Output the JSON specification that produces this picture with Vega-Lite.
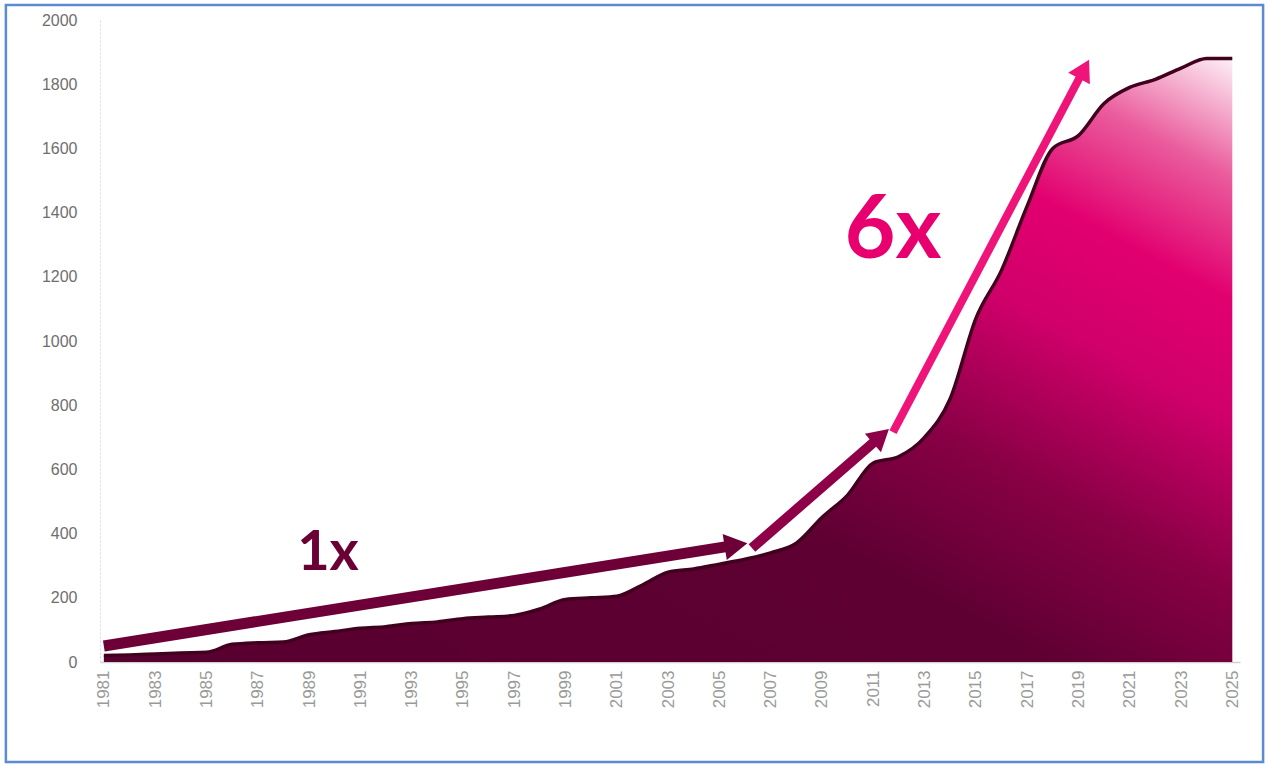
{
  "$schema": "https://vega.github.io/schema/vega-lite/v6.json",
  "width": 1140,
  "height": 642,
  "autosize": {"type": "none"},
  "padding": {"left": 100, "top": 20, "right": 28, "bottom": 102},
  "background": "white",
  "config": {"view": {"stroke": null}, "font": "Liberation Sans"},
  "datasets": {
    "series": [
      {"year": 1981, "value": 20}, {"year": 1982, "value": 22}, {"year": 1983, "value": 25},
      {"year": 1984, "value": 28}, {"year": 1985, "value": 30}, {"year": 1986, "value": 55},
      {"year": 1987, "value": 60}, {"year": 1988, "value": 62}, {"year": 1989, "value": 85},
      {"year": 1990, "value": 95}, {"year": 1991, "value": 105}, {"year": 1992, "value": 110},
      {"year": 1993, "value": 120}, {"year": 1994, "value": 125}, {"year": 1995, "value": 135},
      {"year": 1996, "value": 140}, {"year": 1997, "value": 145}, {"year": 1998, "value": 165},
      {"year": 1999, "value": 195}, {"year": 2000, "value": 200}, {"year": 2001, "value": 205},
      {"year": 2002, "value": 240}, {"year": 2003, "value": 280}, {"year": 2004, "value": 290},
      {"year": 2005, "value": 305}, {"year": 2006, "value": 320}, {"year": 2007, "value": 340},
      {"year": 2008, "value": 370}, {"year": 2009, "value": 450}, {"year": 2010, "value": 520},
      {"year": 2011, "value": 620}, {"year": 2012, "value": 640}, {"year": 2013, "value": 700},
      {"year": 2014, "value": 820}, {"year": 2015, "value": 1070}, {"year": 2016, "value": 1220},
      {"year": 2017, "value": 1420}, {"year": 2018, "value": 1600}, {"year": 2019, "value": 1640},
      {"year": 2020, "value": 1740}, {"year": 2021, "value": 1790}, {"year": 2022, "value": 1815},
      {"year": 2023, "value": 1850}, {"year": 2024, "value": 1880}, {"year": 2025, "value": 1880}
    ],
    "arrows": [
      {"arrow": "slow", "x0": 1981, "y0": 50, "x1": 2005.65, "y1": 364},
      {"arrow": "mid", "x0": 2006.27, "y0": 355, "x1": 2011.3, "y1": 704},
      {"arrow": "fast", "x0": 2011.77, "y0": 716, "x1": 2019.22, "y1": 1847}
    ],
    "labels": [
      {"label": "1x", "year": 1989.74, "value": 340, "kind": "slow"},
      {"label": "6x", "year": 2011.77, "value": 1340, "kind": "fast"}
    ],
    "frame": [
      {"left": 1977.18, "right": 2026.2, "top": 2046.7, "bottom": -311.5}
    ]
  },
  "layer": [
    {
      "data": {"name": "series"},
      "mark": {
        "type": "area",
        "interpolate": "monotone",
        "color": {
          "gradient": "linear",
          "x1": 0, "y1": 1, "x2": 1, "y2": 0,
          "stops": [
            {"offset": 0, "color": "#580030"},
            {"offset": 0.42, "color": "#5e0032"},
            {"offset": 0.56, "color": "#880045"},
            {"offset": 0.7, "color": "#d0006a"},
            {"offset": 0.8, "color": "#e2006f"},
            {"offset": 0.9, "color": "#ea5b9c"},
            {"offset": 1, "color": "#fdf0f6"}
          ]
        }
      },
      "encoding": {
        "x": {
          "field": "year", "type": "quantitative",
          "scale": {"domain": [1980.85, 2025.3], "nice": false, "zero": false},
          "axis": {
            "title": null, "grid": false, "ticks": false,
            "values": [1981,1983,1985,1987,1989,1991,1993,1995,1997,1999,2001,2003,2005,2007,2009,2011,2013,2015,2017,2019,2021,2023,2025],
            "format": "d", "labelAngle": 270, "labelFontSize": 17, "labelColor": "#9a9a9a",
            "labelPadding": 8, "domainColor": "#d0d0d0", "domainWidth": 1.5, "labelFlush": false, "labelOverlap": false
          }
        },
        "y": {
          "field": "value", "type": "quantitative",
          "scale": {"domain": [0, 2000], "nice": false},
          "axis": {
            "title": null, "grid": false, "ticks": false, "format": "d",
            "values": [0,200,400,600,800,1000,1200,1400,1600,1800,2000],
            "labelFontSize": 16, "labelColor": "#6e6e6e", "labelPadding": 23,
            "domainColor": "#d8d8d8", "domainDash": [2, 2], "labelFlush": false
          }
        }
      }
    },
    {
      "data": {"name": "series"},
      "mark": {"type": "line", "interpolate": "monotone", "color": "#42001f", "strokeWidth": 3.5},
      "encoding": {
        "x": {"field": "year", "type": "quantitative"},
        "y": {"field": "value", "type": "quantitative"}
      }
    },
    {
      "data": {"name": "arrows"},
      "transform": [{"filter": "datum.arrow === 'slow'"}],
      "mark": {"type": "rule", "color": "#6e0038", "strokeWidth": 11},
      "encoding": {
        "x": {"field": "x0", "type": "quantitative"}, "y": {"field": "y0", "type": "quantitative"},
        "x2": {"field": "x1"}, "y2": {"field": "y1"}
      }
    },
    {
      "data": {"name": "arrows"},
      "transform": [{"filter": "datum.arrow === 'mid'"}],
      "mark": {"type": "rule", "color": "#8e0048", "strokeWidth": 10},
      "encoding": {
        "x": {"field": "x0", "type": "quantitative"}, "y": {"field": "y0", "type": "quantitative"},
        "x2": {"field": "x1"}, "y2": {"field": "y1"}
      }
    },
    {
      "data": {"name": "arrows"},
      "transform": [{"filter": "datum.arrow === 'fast'"}],
      "mark": {"type": "rule", "color": "#ef1479", "strokeWidth": 8},
      "encoding": {
        "x": {"field": "x0", "type": "quantitative"}, "y": {"field": "y0", "type": "quantitative"},
        "x2": {"field": "x1"}, "y2": {"field": "y1"}
      }
    },
    {
      "data": {"name": "arrows"},
      "transform": [{"filter": "datum.arrow === 'slow'"}],
      "mark": {"type": "point", "shape": "triangle-right", "filled": true, "color": "#6e0038", "opacity": 1, "size": 700, "angle": 351},
      "encoding": {
        "x": {"field": "x1", "type": "quantitative"}, "y": {"field": "y1", "type": "quantitative"}
      }
    },
    {
      "data": {"name": "arrows"},
      "transform": [{"filter": "datum.arrow === 'mid'"}],
      "mark": {"type": "point", "shape": "triangle-right", "filled": true, "color": "#8e0048", "opacity": 1, "size": 600, "angle": 319},
      "encoding": {
        "x": {"field": "x1", "type": "quantitative"}, "y": {"field": "y1", "type": "quantitative"}
      }
    },
    {
      "data": {"name": "arrows"},
      "transform": [{"filter": "datum.arrow === 'fast'"}],
      "mark": {"type": "point", "shape": "triangle-right", "filled": true, "color": "#ef1479", "opacity": 1, "size": 600, "angle": 298},
      "encoding": {
        "x": {"field": "x1", "type": "quantitative"}, "y": {"field": "y1", "type": "quantitative"}
      }
    },
    {
      "data": {"name": "labels"},
      "transform": [{"filter": "datum.kind === 'slow'"}],
      "mark": {"type": "text", "font": "Lato", "fontWeight": "bold", "fontSize": 56, "color": "#6b0035", "align": "center", "baseline": "middle"},
      "encoding": {
        "x": {"field": "year", "type": "quantitative"}, "y": {"field": "value", "type": "quantitative"},
        "text": {"field": "label"}
      }
    },
    {
      "data": {"name": "labels"},
      "transform": [{"filter": "datum.kind === 'fast'"}],
      "mark": {"type": "text", "font": "Lato", "fontWeight": "bold", "fontSize": 88, "color": "#e8006f", "align": "center", "baseline": "middle"},
      "encoding": {
        "x": {"field": "year", "type": "quantitative"}, "y": {"field": "value", "type": "quantitative"},
        "text": {"field": "label"}
      }
    },
    {
      "data": {"name": "frame"},
      "mark": {"type": "rect", "fill": null, "fillOpacity": 0, "stroke": "#5b8bd0", "strokeWidth": 2.5, "clip": false},
      "encoding": {
        "x": {"field": "left", "type": "quantitative"},
        "x2": {"field": "right"},
        "y": {"field": "top", "type": "quantitative"},
        "y2": {"field": "bottom"}
      }
    }
  ]
}
